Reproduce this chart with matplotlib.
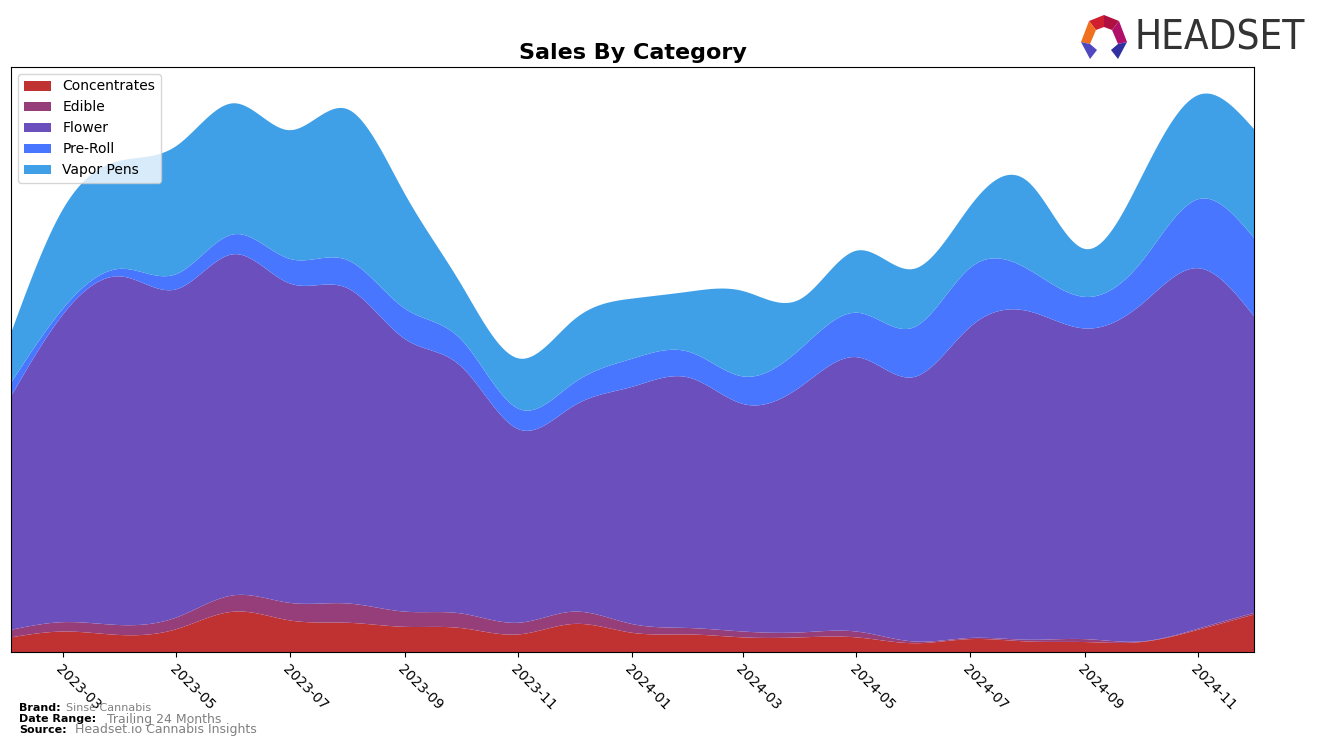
import numpy as np
import pandas as pd
import matplotlib
matplotlib.use("Agg")
import matplotlib.pyplot as plt
import matplotlib.dates as mdates
from matplotlib.patches import Polygon

# ---- data (relative sales, monthly) ----
months = pd.date_range("2023-02-01", "2024-12-01", freq="MS")
categories = ["Concentrates", "Edible", "Flower", "Pre-Roll", "Vapor Pens"]
concentrates = [2.5, 3.5, 2.9, 3.9, 6.9, 5.4, 5.0, 4.3, 4.1, 3.0, 4.8, 3.3,
                3.0, 2.5, 2.5, 2.5, 1.5, 2.2, 1.8, 1.7, 1.7, 3.8, 6.4]
edible = [1.3, 1.6, 1.7, 2.0, 2.8, 3.0, 3.3, 2.6, 2.5, 2.0, 2.1, 1.5,
          1.1, 1.0, 0.85, 1.0, 0.3, 0.2, 0.3, 0.5, 0.1, 0.2, 0.3]
flower = [39.9, 52.6, 59.6, 56.1, 58.3, 54.6, 53.9, 46.6, 42.3, 33.1, 35.2, 40.5,
          42.8, 38.9, 42.0, 46.9, 45.2, 53.1, 56.2, 53.1, 57.5, 61.6, 50.7]
preroll = [2.3, 1.0, 1.3, 2.6, 3.4, 4.2, 4.8, 5.2, 4.6, 3.5, 3.9, 4.8,
           4.4, 4.7, 6.5, 7.6, 8.5, 10.1, 7.2, 5.4, 7.2, 11.8, 13.4]
vapor = [8.5, 17.0, 18.5, 21.9, 22.4, 22.0, 25.8, 19.6, 9.5, 8.6, 10.8, 10.3,
         10.3, 14.6, 8.5, 10.6, 10.0, 10.5, 15.0, 8.2, 14.4, 17.8, 18.6]
colors = ["#C03232", "#963E7A", "#6A4FBD", "#4876FF", "#3FA0E8"]


def natural_spline(x, y, xs):
    x = np.asarray(x, float)
    y = np.asarray(y, float)
    n = len(x)
    h = np.diff(x)
    A = np.zeros((n, n))
    b = np.zeros(n)
    A[0, 0] = 1
    A[-1, -1] = 1
    for i in range(1, n - 1):
        A[i, i - 1] = h[i - 1]
        A[i, i] = 2 * (h[i - 1] + h[i])
        A[i, i + 1] = h[i]
        b[i] = 3 * ((y[i + 1] - y[i]) / h[i] - (y[i] - y[i - 1]) / h[i - 1])
    c = np.linalg.solve(A, b)
    idx = np.clip(np.searchsorted(x, xs) - 1, 0, n - 2)
    dx = xs - x[idx]
    bb = (y[idx + 1] - y[idx]) / h[idx] - h[idx] * (2 * c[idx] + c[idx + 1]) / 3
    d = (c[idx + 1] - c[idx]) / (3 * h[idx])
    return y[idx] + bb * dx + c[idx] * dx ** 2 + d * dx ** 3


xnum = mdates.date2num(months.to_pydatetime())
xs = np.linspace(xnum[0], xnum[-1], 800)
series = [concentrates, edible, flower, preroll, vapor]
smooth = [np.clip(natural_spline(xnum, s, xs), 0, None) for s in series]

fig = plt.figure(figsize=(13.18, 7.47), dpi=100)
ax = fig.add_axes([11 / 1318, 95 / 747, 1243 / 1318, 585 / 747])
ax.stackplot(mdates.num2date(xs), *smooth, labels=categories, colors=colors)

ax.set_xlim(months[0], months[-1])
ax.set_ylim(0, 100)
ax.set_yticks([])
ticks = months[1::2]
ax.set_xticks(ticks)
ax.xaxis.set_major_formatter(mdates.DateFormatter("%Y-%m"))
for lbl in ax.get_xticklabels():
    lbl.set_rotation(-45)
    lbl.set_ha("left")
    lbl.set_rotation_mode("anchor")
ax.tick_params(axis="x", labelsize=10)
ax.set_title("Sales By Category", fontsize=16, fontweight="bold")
ax.legend(loc="upper left", fontsize=10)

# footer
fig.text(19 / 1318, 1 - 708 / 747, "Brand:", fontsize=8, fontweight="bold", va="center")
fig.text(66 / 1318, 1 - 708 / 747, "Sinse Cannabis", fontsize=8, color="gray", va="center")
fig.text(19 / 1318, 1 - 719 / 747, "Date Range:", fontsize=8, fontweight="bold", va="center")
fig.text(107 / 1318, 1 - 719 / 747, "Trailing 24 Months", fontsize=9, color="gray", va="center")
fig.text(19 / 1318, 1 - 730 / 747, "Source:", fontsize=8, fontweight="bold", va="center")
fig.text(75 / 1318, 1 - 730 / 747, "Headset.io Cannabis Insights", fontsize=9, color="gray", va="center")

# logo
fig.text(1134 / 1318, 1 - 39 / 747, "HEADSET", fontsize=29, color="#333333",
         va="center", ha="left", family="DejaVu Sans", fontstretch="condensed")
def P(pts, col):
    fig.patches.append(Polygon([(x / 1318, 1 - y / 747) for x, y in pts], closed=True,
                               transform=fig.transFigure, facecolor=col, edgecolor="none"))
P([(1104, 15), (1119, 21), (1112, 30), (1104, 27)], "#B01040")
P([(1104, 15), (1089, 21), (1096, 30), (1104, 27)], "#D02030")
P([(1119, 21), (1127, 42), (1118, 44), (1112, 30)], "#B0106A")
P([(1089, 21), (1081, 42), (1090, 44), (1096, 30)], "#F07020")
P([(1081, 42), (1090, 44), (1097, 50), (1090, 59)], "#5048C0")
P([(1127, 42), (1118, 44), (1111, 50), (1118, 59)], "#3030A0")

fig.savefig("out.png", dpi=100)
